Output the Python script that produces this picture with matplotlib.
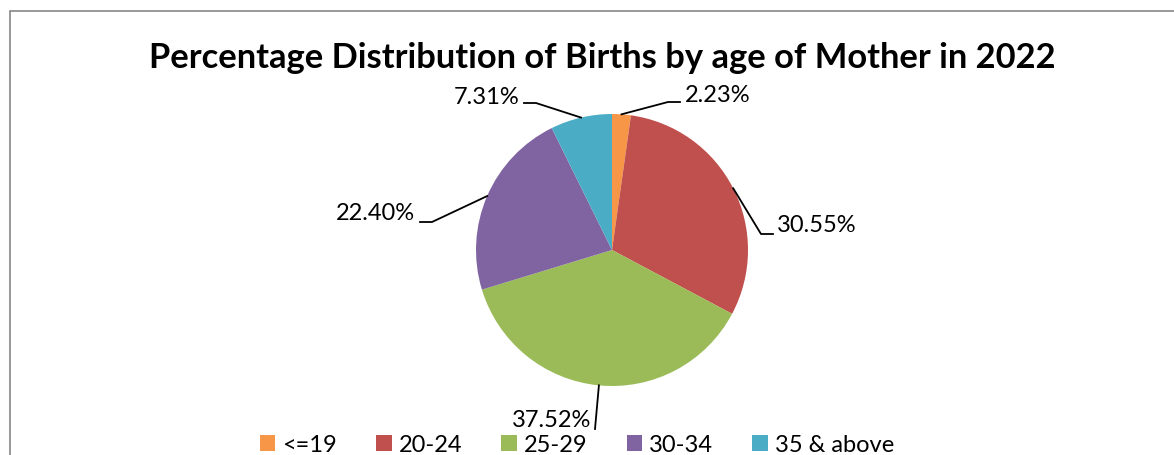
import numpy as np
import matplotlib.pyplot as plt
from matplotlib.patches import Rectangle

plt.rcParams['font.family'] = ['Lato', 'DejaVu Sans']

# data
age_groups = ['<=19', '20-24', '25-29', '30-34', '35 & above']
shares = [2.23, 30.55, 37.52, 22.40, 7.31]
colors = ['#F79646', '#C0504D', '#9BBB59', '#8064A2', '#4BACC6']
title = 'Percentage Distribution of Births by age of Mother in 2022'

W, H = 1174, 456

# label layout in pixels (from top-left): text anchor, leader bend, leader end
label_pos = [(685, 96, 'left'), (777, 225, 'left'), (591, 421, 'right'),
             (415, 214, 'right'), (519, 97, 'right')]
leader_pts = [[(668, 103), (680, 103)],
              [(761, 235), (773, 235)],
              [(595, 430)],
              [(432, 223), (420, 223)],
              [(536, 104), (524, 104)]]


def py(y):
    return H - y


fig = plt.figure(figsize=(W / 100, H / 100), dpi=100)
ax = fig.add_axes([0, 0, 1, 1])

# chart frame (runs off the right and bottom edges)
ax.add_patch(Rectangle((10, -20), W, py(12) + 20, fill=False,
                       edgecolor='#868686', linewidth=1.2))

cx, cy, r = 612, py(251), 136
wedges, _ = ax.pie(shares, colors=colors, startangle=90, counterclock=False,
                   center=(cx, cy), radius=r, frame=True,
                   wedgeprops=dict(linewidth=0))
ax.set_xlim(0, W)
ax.set_ylim(0, H)
ax.set_aspect('equal')
ax.axis('off')

for w, v, (tx, ty, ha), pts in zip(wedges, shares, label_pos, leader_pts):
    mid = np.deg2rad((w.theta1 + w.theta2) / 2)
    xs = [cx + r * np.cos(mid)] + [p[0] for p in pts]
    ys = [cy + r * np.sin(mid)] + [py(p[1]) for p in pts]
    ax.plot(xs, ys, color='black', linewidth=1.3)
    ax.text(tx, py(ty), f'{v:.2f}%', ha=ha, va='center', fontsize=17)

ax.text(602, py(58), title, ha='center', va='center', fontsize=24.8,
        fontweight='bold')

ax.legend(wedges, age_groups, ncol=5, frameon=False, fontsize=17,
          loc='center', bbox_to_anchor=(577 / W, 10 / H),
          handlelength=0.66, handleheight=0.66, handletextpad=0.3,
          columnspacing=1.65, borderpad=0)

fig.savefig('out.png', dpi=100)
